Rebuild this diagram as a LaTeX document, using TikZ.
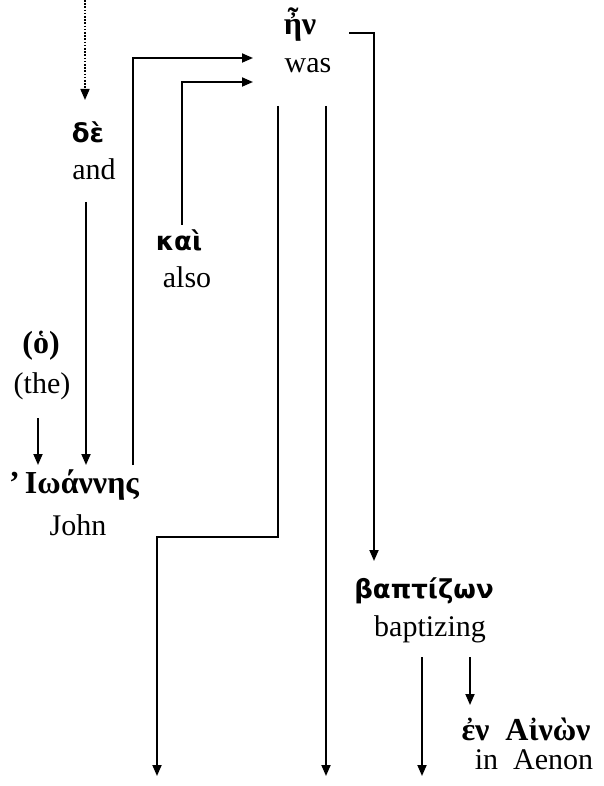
\documentclass[tikz,border=0pt]{standalone}
\usepackage{fontspec}
\setmainfont{Liberation Serif}
\newfontfamily\grsans{DejaVu Sans}
\usetikzlibrary{arrows.meta}
\begin{document}
\begin{tikzpicture}[x=1pt,y=-1pt,
 conn/.style={line width=1.8pt,-{Triangle[length=11pt,width=9pt]}},
 dotconn/.style={line width=1.6pt,dash pattern=on 1.6pt off 1.6pt,-{Triangle[length=11pt,width=9pt]}},
 eng/.style={inner sep=0pt,anchor=base,font=\fontsize{30}{36}\selectfont},
 grs/.style={inner sep=0pt,anchor=base,font=\fontsize{26}{30}\selectfont\grsans\bfseries},
 grr/.style={inner sep=0pt,anchor=base,font=\fontsize{32}{36}\selectfont\bfseries}]
\useasboundingbox (0,0) rectangle (603,786);
% words
\node[grr] (en) at (300,35) {ἦν};
\node[eng] (was) at (308,73) {was};
\node[grs] (de) at (88,143) {δὲ};
\node[eng] (and) at (94,180) {and};
\node[grs] (kai) at (179,250) {καὶ};
\node[eng] (also) at (187,287) {also};
\node[grr] (ho) at (41,353) {(ὁ)};
\node[eng] (the) at (42,393) {(the)};
\node[grr] (ioannes) at (74,493) {’\,Ιωάννης};
\node[eng] (john) at (78,535) {John};
\node[grs] (bapt) at (424,598) {βαπτίζων};
\node[eng] (baptizing) at (430,636) {baptizing};
\node[grr] (ainon) at (526,740) {ἐν\enspace Αἰνὼν};
\node[eng] (aenon) at (534,769) {in\enspace Aenon};
% connector end points
\coordinate (top) at (85,0);
\coordinate (deIn) at (85,100);
\coordinate (deOut) at (86,202);
\coordinate (ioIn1) at (86,465);
\coordinate (theOut) at (38,418);
\coordinate (ioIn2) at (38,465);
\coordinate (ioOut) at (133,465);
\coordinate (c1) at (133,58);
\coordinate (enIn1) at (253,58);
\coordinate (kaiOut) at (182,225);
\coordinate (c2) at (182,82);
\coordinate (enIn2) at (253,82);
\coordinate (enOut1) at (349,33);
\coordinate (c3) at (374,33);
\coordinate (baptIn) at (374,561);
\coordinate (enOut2) at (278,106);
\coordinate (c4) at (278,537);
\coordinate (c5) at (157,537);
\coordinate (end1) at (157,776);
\coordinate (enOut3) at (326,106);
\coordinate (end2) at (326,776);
\coordinate (baptOut1) at (422,657);
\coordinate (end3) at (422,776);
\coordinate (baptOut2) at (470,657);
\coordinate (ainonIn) at (470,705);
% connectors
\draw[dotconn] (top) -- (deIn);
\draw[conn] (deOut) -- (ioIn1);
\draw[conn] (theOut) -- (ioIn2);
\draw[conn] (ioOut) -- (c1) -- (enIn1);
\draw[conn] (kaiOut) -- (c2) -- (enIn2);
\draw[conn] (enOut1) -- (c3) -- (baptIn);
\draw[conn] (enOut2) -- (c4) -- (c5) -- (end1);
\draw[conn] (enOut3) -- (end2);
\draw[conn] (baptOut1) -- (end3);
\draw[conn] (baptOut2) -- (ainonIn);
\end{tikzpicture}
\end{document}
